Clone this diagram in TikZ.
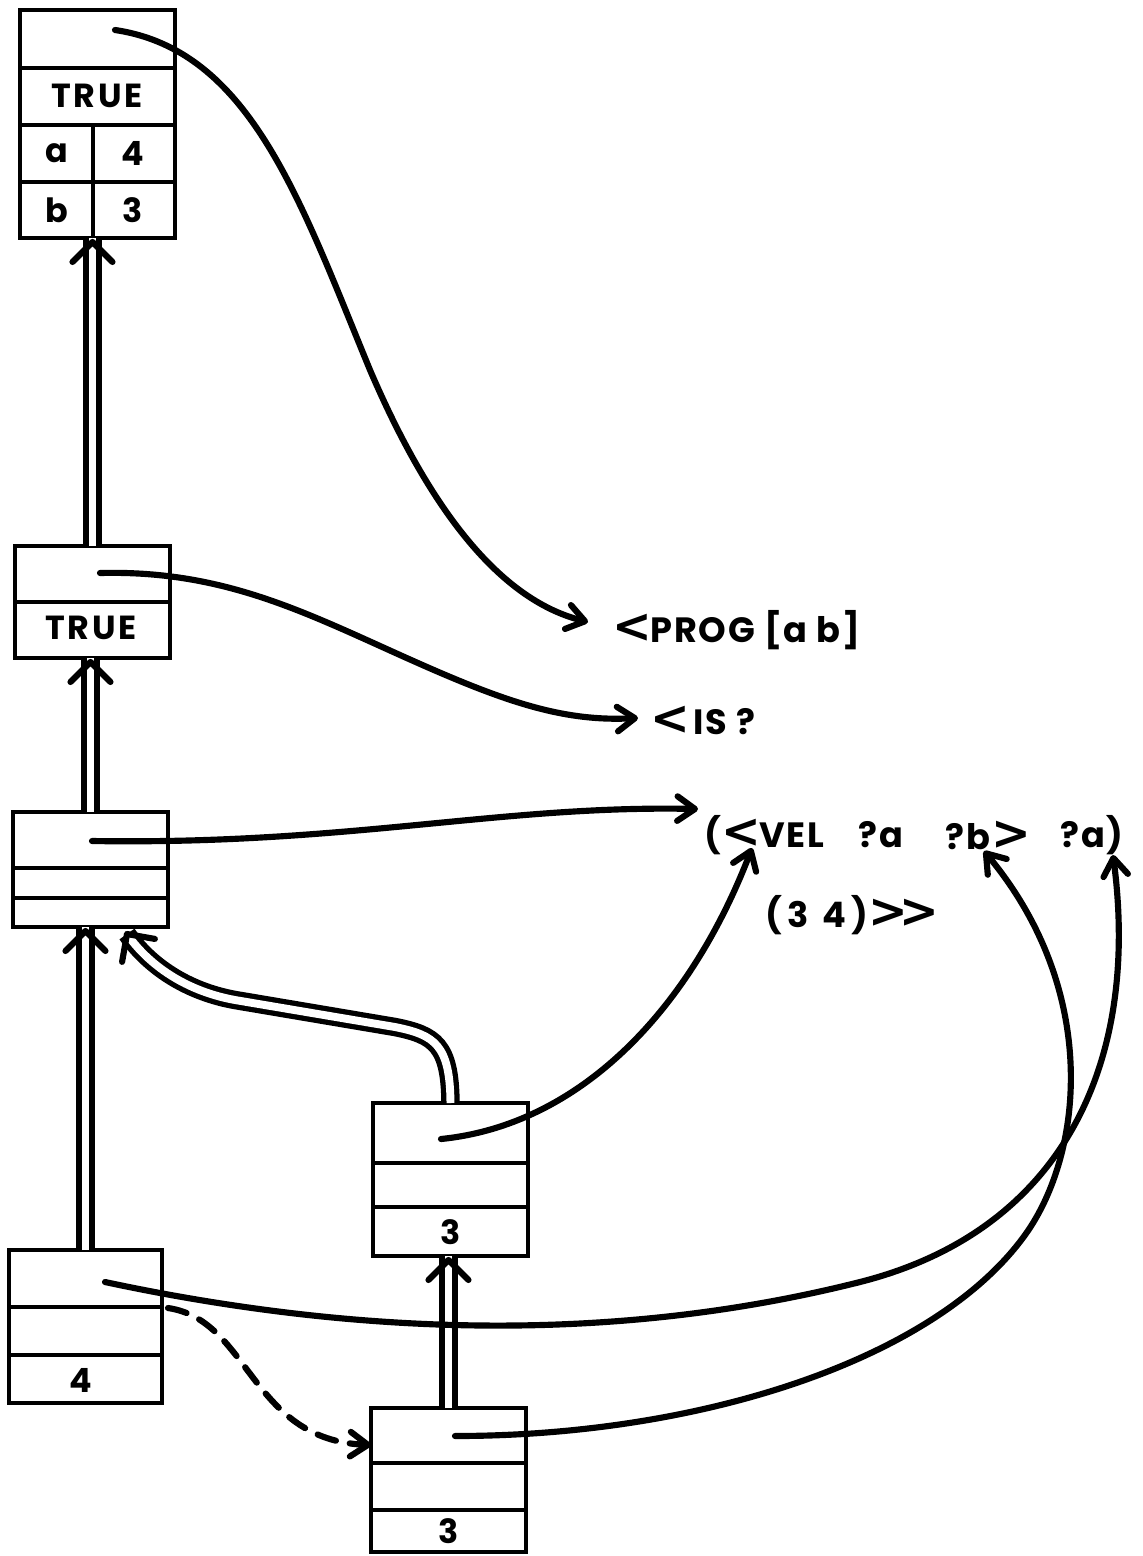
\documentclass[tikz,border=0pt]{standalone}
\usepackage{fontspec}
\setmainfont{Poppins}[Ligatures=ResetAll]
\newfontfamily\symf{DejaVu Sans}
\newcommand{\lsym}{{\symf\fontsize{27}{27}\selectfont <}}
\newcommand{\gsym}{{\symf\fontsize{27}{27}\selectfont >}}
\usetikzlibrary{arrows.meta,calc}
\begin{document}
\begin{tikzpicture}[x=0.02cm,y=-0.02cm,
  box/.style={draw, line width=2.6pt, inner sep=0pt, outer sep=0pt, anchor=north west, minimum width=3.1cm},
  div/.style={line width=2.3pt},
  lbl/.style={font=\fontsize{19}{22}\selectfont\bfseries\addfontfeatures{LetterSpace=8}, inner sep=0pt},
  txt/.style={font=\fontsize{20}{24}\selectfont\bfseries\addfontfeatures{LetterSpace=5}, inner sep=0pt, anchor=west},
  link/.style={line width=3.5pt, line cap=round, -{Straight Barb[length=10pt,width=14pt,round]}},
  dashlink/.style={link, dash pattern=on 11pt off 8pt},
  dbl/.style={line width=3pt, double distance=4.5pt},
  dhead/.pic={\draw[line width=3.5pt, line cap=round, line join=round] (-20,20) -- (0,0) -- (20,20);}
]
\useasboundingbox (0,0) rectangle (1143,1556);

% ---------- boxes ----------
\node[box, minimum height=4.56cm] (A) at (20,10) {};
\draw[div] (20,68) -- (175,68);
\draw[div] (20,125) -- (175,125);
\draw[div] (20,182) -- (175,182);
\draw[div] (93,125) -- (93,238);
\node[lbl] (tA) at (97,96) {TRUE};
\node[lbl] (aA) at (57,153) {a};
\node[lbl] (fA) at (133,153) {4};
\node[lbl] (bA) at (57,210) {b};
\node[lbl] (hA) at (133,210) {3};

\node[box, minimum height=2.24cm] (B) at (15,546) {};
\draw[div] (15,602) -- (170,602);
\node[lbl] (tB) at (91,628) {TRUE};

\node[box, minimum height=2.3cm] (C) at (13,812) {};
\draw[div] (13,868) -- (168,868);
\draw[div] (13,898) -- (168,898);

\node[box, minimum width=3.06cm, minimum height=3.06cm] (D) at (9,1250) {};
\draw[div] (9,1307) -- (162,1307);
\draw[div] (9,1355) -- (162,1355);
\node[lbl] (fD) at (81,1380) {4};

\node[box, minimum height=3.06cm] (E) at (373,1103) {};
\draw[div] (373,1163) -- (528,1163);
\draw[div] (373,1207) -- (528,1207);
\node[lbl] (hE) at (451,1232) {3};

\node[box, minimum height=2.88cm] (F) at (371,1408) {};
\draw[div] (371,1463) -- (526,1463);
\draw[div] (371,1510) -- (526,1510);
\node[lbl] (hF) at (449,1531) {3};

% ---------- texts ----------
\node[txt] (prog) at (612,630) {\lsym\kern-1pt PROG [a b]};
\node[txt] (is) at (650,720) {\lsym\kern2pt IS ?};
\node[txt] (vel) at (704,835) {(\lsym\kern-1pt VEL};
\node[txt] (pa1) at (858,835) {?a};
\node[txt] (pb) at (945,835) {?b\kern1pt\gsym};
\node[txt] (pa2) at (1060,835) {?a)};
\node[txt] (l34) at (765,915) {(\kern3pt3\kern8pt4\kern3pt)\gsym\kern-5pt\gsym};

% ---------- double (parent) arrows ----------
\draw[dbl] (B.north) -- (B.north |- A.south);
\pic at ($(B.north |- A.south)+(0,4)$) {dhead};
\draw[dbl] (C.north) -- (C.north |- B.south);
\pic at ($(C.north |- B.south)+(0,4)$) {dhead};
\draw[dbl] (D.north) -- (D.north |- C.south);
\pic at ($(D.north |- C.south)+(0,4)$) {dhead};
\draw[dbl] (F.north) -- (F.north |- E.south);
\pic at ($(F.north |- E.south)+(0,4)$) {dhead};
\coordinate (ctip) at (127,934);
\draw[dbl] (E.north) .. controls (450,1045) and (435,1035) .. (395,1027)
  -- (235,1000) .. controls (180,990) and (145,960) .. (ctip);
\pic[rotate=35] at (ctip) {dhead};

% ---------- pointers ----------
\coordinate (sA) at (115,30);
\coordinate (sB) at (100,573);
\coordinate (sC) at (92,841);
\coordinate (sD) at (105,1282);
\coordinate (sE) at (441,1139);
\coordinate (sF) at (455,1436);
\coordinate (sDd) at (168,1308);
\coordinate (tProg) at (588,622);
\coordinate (tIs) at (638,718);
\coordinate (tVel) at (698,809);
\coordinate (tVelB) at (752,848);
\coordinate (tPb) at (984,851);
\coordinate (tPa) at (1113,855);

\draw[link] (sA) .. controls (250,50) and (300,200) .. (370,370)
  .. controls (445,545) and (520,605) .. (tProg);
\draw[link] (sB) .. controls (220,570) and (300,610) .. (400,655)
  .. controls (500,700) and (560,722) .. (tIs);
\draw[link] (sC) .. controls (350,845) and (500,805) .. (tVel);
\draw[link] (sE) .. controls (580,1125) and (690,1010) .. (tVelB);
\draw[link] (sD) .. controls (400,1345) and (650,1335) .. (860,1282)
  .. controls (1065,1230) and (1140,1060) .. (tPa);
\draw[link] (sF) .. controls (700,1436) and (935,1360) .. (1025,1235)
  .. controls (1084,1153) and (1100,990) .. (tPb);
\draw[dashlink] (sDd) .. controls (250,1320) and (250,1440) .. (F.west |- 0,1445);
\end{tikzpicture}
\end{document}
